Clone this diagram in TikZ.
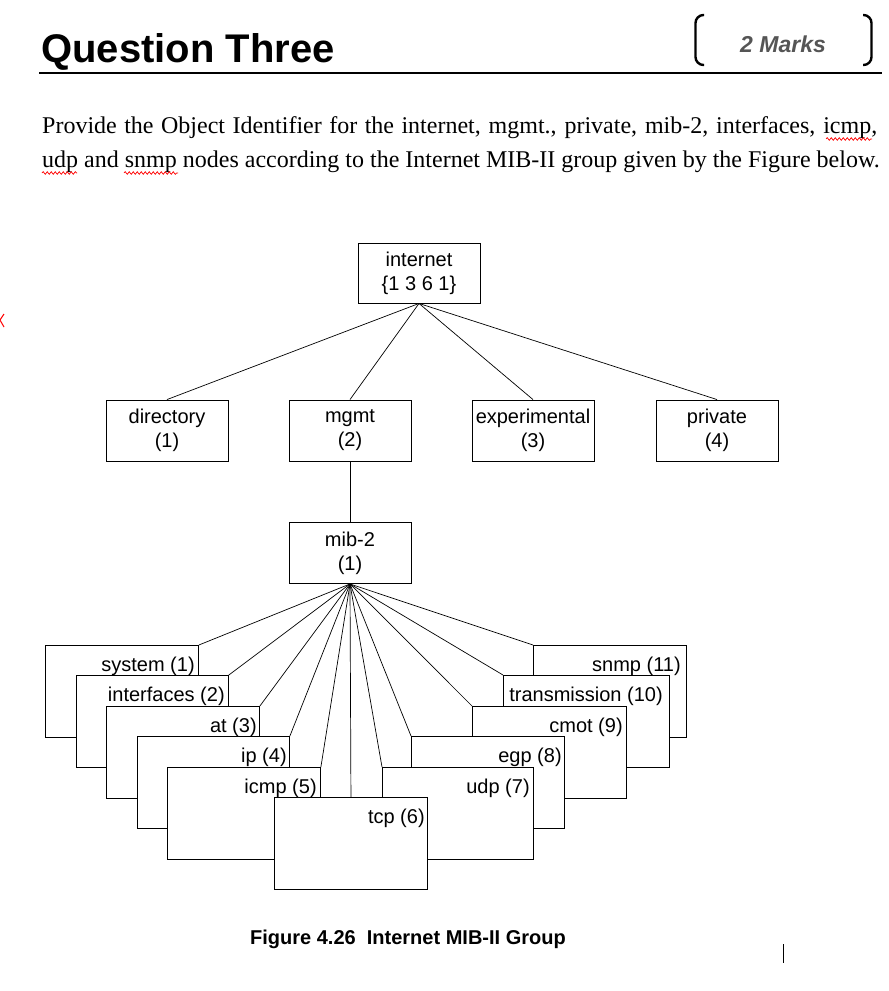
\documentclass[tikz,border=0pt]{standalone}
\usepackage{fontspec}
\setmainfont{Liberation Serif}
\newfontfamily\arial{Liberation Sans}
\usetikzlibrary{decorations.pathmorphing}
\definecolor{markgray}{RGB}{85,85,85}

\tikzset{
  box/.style={draw,fill=white,line width=.9pt,minimum width=122pt,minimum height=61pt,
    inner sep=0pt,align=center,font=\arial\fontsize{20}{24}\selectfont},
  leaf/.style={draw,fill=white,line width=.9pt,minimum width=153pt,minimum height=91.5pt,
    inner sep=0pt,anchor=north west},
  leaflbl/.style={anchor=north east,inner sep=0pt,font=\arial\fontsize{20}{24}\selectfont},
  link/.style={line width=.7pt},
  squiggle/.style={red,line width=.7pt,decorate,decoration={snake,amplitude=1.3pt,segment length=4pt}}
}

\begin{document}
\begin{tikzpicture}[x=1pt,y=-1pt]
\useasboundingbox (0,0) rectangle (889,991);
% heading
\node[anchor=base west,inner sep=0pt,font=\arial\bfseries\fontsize{40}{44}\selectfont] (title) at (41,62) {Question Three};
\draw[line width=2pt] (39,72.5) -- (882,72.5);
\draw[line width=2.4pt,rounded corners=8pt] (704,15) -- (695.5,15) -- (695.5,65) -- (704,65);
\draw[line width=2.4pt,rounded corners=8pt] (863,15) -- (871.5,15) -- (871.5,65) -- (863,65);
\node[anchor=base west,inner sep=0pt,text=markgray,font=\arial\bfseries\itshape\fontsize{23}{26}\selectfont] (marks) at (740,52) {2 Marks};
\draw[red,line width=1pt] (4,314) -- (0,320) -- (4,327);

% question text
\node[anchor=base west,inner sep=0pt,font=\fontsize{24}{28}\selectfont] (line1) at (42,133)
  {\makebox[835pt][s]{Provide the Object Identifier for the internet, mgmt., private, mib-2, interfaces, icmp,}};
\node[anchor=base west,inner sep=0pt,font=\fontsize{24}{28}\selectfont] (line2) at (42,167)
  {udp and snmp nodes according to the Internet MIB-II group given by the Figure below.};
\draw[squiggle] (826,139) -- (872,139);
\draw[squiggle] (42,173) -- (77,173);
\draw[squiggle] (124,173) -- (178,173);

% upper tree
\node[box,minimum height=60pt] (inet) at (419,273) {internet\\\{1 3 6 1\}};
\node[box] (dir) at (167,430.5) {directory\\(1)};
\node[box] (mgmt) at (350,430.5) {mgmt\\(2)};
\node[box] (exp) at (533,430.5) {experimental\\(3)};
\node[box] (priv) at (717,430.5) {private\\(4)};
\node[box] (mib) at (350,553) {mib-2\\(1)};
\draw[link] (inet.south) -- (dir.north);
\draw[link] (inet.south) -- (mgmt.north);
\draw[link] (inet.south) -- (exp.north);
\draw[link] (inet.south) -- (priv.north);
\draw[link] (mgmt.south) -- (mib.north);

% mib-2 groups, back to front
\node[leaf] (sys) at (45,645) {};
\node[leaflbl] (sysl) at ([xshift=-4pt,yshift=-12pt]sys.north east) {system (1)};
\node[leaf,minimum width=152pt] (ifc) at (76,675) {};
\node[leaflbl] (ifcl) at ([xshift=-4pt,yshift=-12pt]ifc.north east) {interfaces (2)};
\node[leaf] (at) at (106,706) {};
\node[leaflbl] (atl) at ([xshift=-3pt,yshift=-12pt]at.north east) {at (3)};
\node[leaf,minimum width=152pt] (ip) at (137,736) {};
\node[leaflbl] (ipl) at ([xshift=-3pt,yshift=-12pt]ip.north east) {ip (4)};
\node[leaf] (icmp) at (167,767) {};
\node[leaflbl] (icmpl) at ([xshift=-4pt,yshift=-12pt]icmp.north east) {icmp (5)};
\node[leaf] (snmp) at (533,645) {};
\node[leaflbl] (snmpl) at ([xshift=-6pt,yshift=-12pt]snmp.north east) {snmp (11)};
\node[leaf,minimum width=166pt] (trans) at (503,675) {};
\node[leaflbl] (transl) at ([xshift=-7pt,yshift=-12pt]trans.north east) {transmission (10)};
\node[leaf,minimum width=154pt] (cmot) at (472,706) {};
\node[leaflbl] (cmotl) at ([xshift=-4pt,yshift=-12pt]cmot.north east) {cmot (9)};
\node[leaf] (egp) at (411,736) {};
\node[leaflbl] (egpl) at ([xshift=-3pt,yshift=-12pt]egp.north east) {egp (8)};
\node[leaf,minimum width=151pt] (udp) at (382,767) {};
\node[leaflbl] (udpl) at ([xshift=-4pt,yshift=-12pt]udp.north east) {udp (7)};
\node[leaf] (tcp) at (274,797) {};
\node[leaflbl] (tcpl) at ([xshift=-3pt,yshift=-12pt]tcp.north east) {tcp (6)};

\draw[link] (mib.south) -- (sys.north east);
\draw[link] (mib.south) -- (ifc.north east);
\draw[link] (mib.south) -- (at.north east);
\draw[link] (mib.south) -- (ip.north east);
\draw[link] (mib.south) -- (icmp.north east);
\draw[link] (mib.south) -- (tcp.north);
\draw[link] (mib.south) -- (udp.north west);
\draw[link] (mib.south) -- (egp.north west);
\draw[link] (mib.south) -- (cmot.north west);
\draw[link] (mib.south) -- (trans.north west);
\draw[link] (mib.south) -- (snmp.north west);

% caption
\node[font=\arial\bfseries\fontsize{20}{24}\selectfont] (cap) at (408,939) {Figure 4.26\ \ Internet MIB-II Group};
\draw[line width=1pt] (783,944) -- (783,963);
\end{tikzpicture}
\end{document}
